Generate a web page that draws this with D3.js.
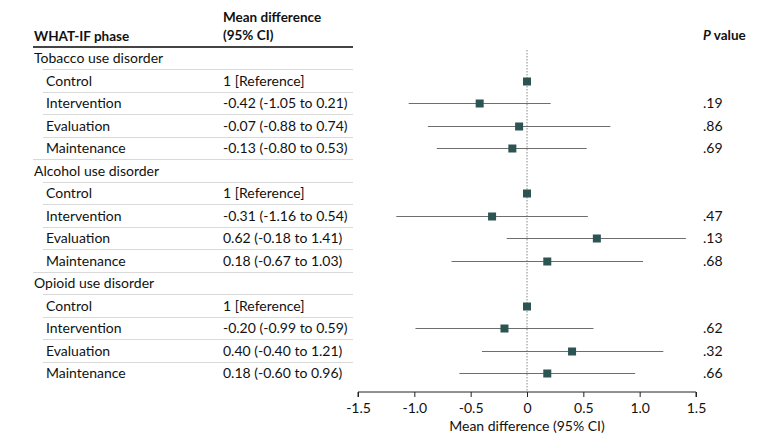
<!DOCTYPE html>
<html>
<head>
<meta charset="utf-8">
<script src="https://cdn.jsdelivr.net/npm/d3@7"></script>
<style>
  body { margin: 0; background: #fff; }
  svg text { font-family: Lato, Roboto, sans-serif; fill: #111; }
</style>
</head>
<body>
<svg width="780" height="445"></svg>
<script>
'use strict';

// data
const groups = ['Tobacco use disorder', 'Alcohol use disorder', 'Opioid use disorder'];
const phases = ['Control', 'Intervention', 'Evaluation', 'Maintenance'];
const means = [
  [0, -0.42, -0.07, -0.13],
  [0, -0.31, 0.62, 0.18],
  [0, -0.20, 0.40, 0.18]
];
const lows = [
  [null, -1.05, -0.88, -0.80],
  [null, -1.16, -0.18, -0.67],
  [null, -0.99, -0.40, -0.60]
];
const highs = [
  [null, 0.21, 0.74, 0.53],
  [null, 0.54, 1.41, 1.03],
  [null, 0.59, 1.21, 0.96]
];
const pValues = [
  ['', '.19', '.86', '.69'],
  ['', '.47', '.13', '.68'],
  ['', '.62', '.32', '.66']
];
const xTicks = [-1.5, -1.0, -0.5, 0, 0.5, 1.0, 1.5];

const fmt = v => v.toFixed(2);

// flatten into table rows
const rows = [];
groups.forEach((g, gi) => {
  rows.push({ type: 'group', label: g });
  phases.forEach((p, pi) => {
    const m = means[gi][pi];
    rows.push({
      type: 'item',
      label: p,
      mean: m,
      lo: lows[gi][pi],
      hi: highs[gi][pi],
      p: pValues[gi][pi],
      text: lows[gi][pi] === null ? '1 [Reference]'
        : `${fmt(m)} (${fmt(lows[gi][pi])} to ${fmt(highs[gi][pi])})`
    });
  });
});

const svg = d3.select('svg');
const fs = 14;

const x = d3.scaleLinear().domain([-1.5, 1.5]).range([358, 696]);
const y = d3.scalePoint().domain(d3.range(rows.length)).range([58, 373]);
const step = y.step();
const rowY = d => Math.round(y(rows.indexOf(d))) + 0.5;

// header
const head = svg.append('g').style('font-weight', 'bold').style('font-size', '13.5px');
head.append('text').attr('x', 34).attr('y', 41).text('WHAT-IF phase');
head.append('text').attr('x', 223).attr('y', 22).text('Mean difference');
head.append('text').attr('x', 223).attr('y', 40).text('(95% CI)');
const pv = head.append('text').attr('x', 703).attr('y', 40);
pv.append('tspan').style('font-style', 'italic').text('P');
pv.append('tspan').text(' value');

svg.append('line')
  .attr('x1', 33).attr('x2', 353).attr('y1', 47).attr('y2', 47)
  .attr('stroke', '#444').attr('stroke-width', 2);

// row separators
rows.forEach((r, i) => {
  if (i === rows.length - 1) return;
  const next = rows[i + 1];
  const yy = Math.round(y(i) + step / 2) + 0.5;
  svg.append('line')
    .attr('x1', next.type === 'group' ? 33 : 43)
    .attr('x2', 353)
    .attr('y1', yy).attr('y2', yy)
    .attr('stroke', '#d9d9d9').attr('stroke-width', 1);
});

// row labels
const tbl = svg.append('g').style('font-size', fs + 'px');
tbl.selectAll('text.label')
  .data(rows)
  .join('text')
  .attr('class', 'label')
  .attr('x', d => d.type === 'group' ? 34 : 46)
  .attr('y', (d, i) => y(i) + 5)
  .text(d => d.label);

tbl.selectAll('text.est')
  .data(rows.filter(d => d.type === 'item'))
  .join('text')
  .attr('class', 'est')
  .attr('x', 223)
  .attr('y', d => y(rows.indexOf(d)) + 5)
  .text(d => d.text);

tbl.selectAll('text.pv')
  .data(rows.filter(d => d.type === 'item' && d.p))
  .join('text')
  .attr('class', 'pv')
  .attr('x', 703)
  .attr('y', d => y(rows.indexOf(d)) + 5)
  .text(d => d.p);

// reference line
svg.append('line')
  .attr('x1', x(0)).attr('x2', x(0))
  .attr('y1', 50).attr('y2', 392)
  .attr('stroke', '#888').attr('stroke-width', 1)
  .attr('stroke-dasharray', '1.5,1.5');

// CIs and points
const items = rows.filter(d => d.type === 'item');
svg.append('g').selectAll('line')
  .data(items.filter(d => d.lo !== null))
  .join('line')
  .attr('x1', d => x(d.lo)).attr('x2', d => x(d.hi))
  .attr('y1', rowY).attr('y2', rowY)
  .attr('stroke', '#6e6e6e').attr('stroke-width', 1);

const sq = 8;
svg.append('g').selectAll('rect')
  .data(items)
  .join('rect')
  .attr('x', d => x(d.mean) - sq / 2)
  .attr('y', d => rowY(d) - sq / 2)
  .attr('width', sq).attr('height', sq)
  .attr('fill', '#2b5453');

// x axis
const axis = svg.append('g')
  .attr('transform', 'translate(0,392)')
  .call(d3.axisBottom(x).tickValues(xTicks).tickSize(5)
    .tickFormat(d => d === 0 ? '0' : d.toFixed(1)));
axis.select('.domain')
  .attr('stroke', '#222')
  .attr('d', `M${x(-1.5)},5V0H${x(1.5)}V5`);
axis.selectAll('.tick line').attr('stroke', '#222');
axis.selectAll('.tick text')
  .style('font-size', fs + 'px')
  .style('font-family', 'Lato, Roboto, sans-serif')
  .attr('fill', '#111')
  .attr('dy', '0.95em');

svg.append('text')
  .attr('x', x(0)).attr('y', 431)
  .attr('text-anchor', 'middle')
  .style('font-size', fs + 'px')
  .text('Mean difference (95% CI)');
</script>
</body>
</html>
